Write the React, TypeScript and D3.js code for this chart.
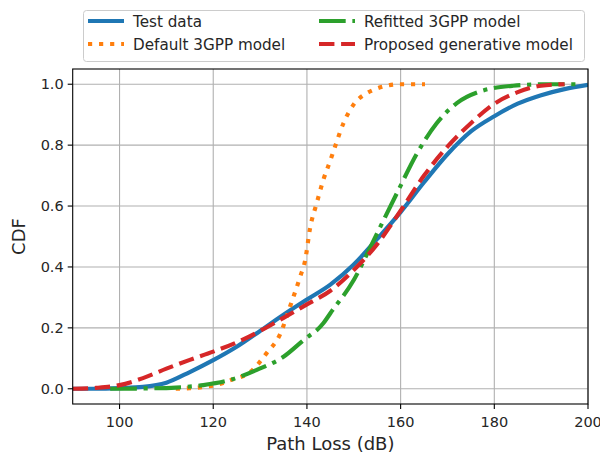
import React from "react";
import * as d3 from "d3";

const xTicks = [100, 120, 140, 160, 180, 200];
const yTicks = [0.0, 0.2, 0.4, 0.6, 0.8, 1.0];

// Test data (blue, solid)
const testX = [90, 95, 100, 105, 110, 115, 120, 125, 130, 135, 140, 145, 150, 155, 160, 165, 170, 175, 180, 185, 190, 195, 200];
const testY = [0, 0, 0.002, 0.006, 0.02, 0.055, 0.094, 0.138, 0.19, 0.243, 0.293, 0.342, 0.408, 0.492, 0.58, 0.678, 0.77, 0.845, 0.895, 0.936, 0.964, 0.984, 0.998];

// Default 3GPP model (orange, dotted)
const defX = [112, 115, 117.9, 121, 124, 127.9, 131.4, 134.3, 136.4, 138.6, 139.6, 140.7, 142.1, 143.5, 145, 146, 147.8, 150.3, 152.5, 154.6, 157, 159.9, 165.2];
const defY = [0, 0.002, 0.006, 0.014, 0.03, 0.055, 0.117, 0.18, 0.27, 0.37, 0.42, 0.53, 0.61, 0.686, 0.75, 0.795, 0.872, 0.94, 0.968, 0.984, 0.995, 1.0, 1.0];

// Refitted 3GPP model (green, dash-dot)
const refX = [98, 105, 112, 117.9, 123.6, 129.3, 135, 139.3, 143.5, 145, 150, 154.3, 159.2, 163.5, 167.7, 172, 176.9, 184, 191.2, 197.6];
const refY = [0, 0.001, 0.004, 0.012, 0.029, 0.062, 0.105, 0.16, 0.215, 0.248, 0.357, 0.489, 0.642, 0.773, 0.872, 0.938, 0.976, 0.995, 1.0, 1.0];

// Proposed generative model (red, dashed)
const proX = [90, 95, 100, 105, 110, 115, 120, 125, 130, 135, 140, 145, 150, 155, 160, 165, 170, 175, 180, 185, 190, 195];
const proY = [0, 0.003, 0.012, 0.035, 0.066, 0.095, 0.122, 0.152, 0.19, 0.233, 0.277, 0.322, 0.39, 0.475, 0.585, 0.7, 0.795, 0.872, 0.936, 0.974, 0.995, 1.0];

const seriesNames = ["Test data", "Default 3GPP model", "Refitted 3GPP model", "Proposed generative model"];

const W = 600, H = 454;
const L = 72.7, R = 588, T = 69, B = 404;
const LW = 4.17;
const FONT = "DejaVu Sans, sans-serif";

export default function App() {
  const x = d3.scaleLinear().domain([90, 200]).range([L, R]);
  const y = d3.scaleLinear().domain([-0.05, 1.05]).range([B, T]);
  const line = d3.line<[number, number]>().x(d => x(d[0])).y(d => y(d[1])).curve(d3.curveMonotoneX);
  const zip = (a: number[], b: number[]) => a.map((v, i) => [v, b[i]] as [number, number]);

  const series = [
    { name: seriesNames[0], pts: zip(testX, testY), color: "#1f77b4", dash: "none" },
    { name: seriesNames[1], pts: zip(defX, defY), color: "#ff7f0e", dash: `${1 * LW} ${1.65 * LW}` },
    { name: seriesNames[2], pts: zip(refX, refY), color: "#2ca02c", dash: `${6.4 * LW} ${1.6 * LW} ${1 * LW} ${1.6 * LW}` },
    { name: seriesNames[3], pts: zip(proX, proY), color: "#d62728", dash: `${3.7 * LW} ${1.6 * LW}` },
  ];

  const legendItems = [
    { s: series[0], hx: 88, ty: 22 },
    { s: series[1], hx: 88, ty: 45 },
    { s: series[2], hx: 319, ty: 22 },
    { s: series[3], hx: 319, ty: 45 },
  ];

  return (
    <svg width={W} height={H} style={{ display: "block", position: "absolute", left: 0, top: 0 }} fontFamily={FONT}>
      <rect x={0} y={0} width={W} height={H} fill="#fff" />
      <defs>
        <clipPath id="plotclip">
          <rect x={L} y={T} width={R - L} height={B - T} />
        </clipPath>
      </defs>
      {xTicks.map(t => (
        <line key={"gx" + t} x1={x(t)} x2={x(t)} y1={T} y2={B} stroke="#b0b0b0" strokeWidth={1.1} />
      ))}
      {yTicks.map(t => (
        <line key={"gy" + t} x1={L} x2={R} y1={y(t)} y2={y(t)} stroke="#b0b0b0" strokeWidth={1.1} />
      ))}
      <g clipPath="url(#plotclip)">
        {series.map(s => (
          <path key={s.name} d={line(s.pts) || ""} fill="none" stroke={s.color} strokeWidth={LW}
            strokeDasharray={s.dash} strokeLinecap="butt" strokeLinejoin="round" />
        ))}
      </g>
      <rect x={L} y={T} width={R - L} height={B - T} fill="none" stroke="#000" strokeWidth={1.1} />
      {xTicks.map(t => (
        <g key={"xt" + t}>
          <line x1={x(t)} x2={x(t)} y1={B} y2={B + 5} stroke="#000" strokeWidth={1.1} />
          <text x={x(t)} y={427} textAnchor="middle" fontSize={14.5} fill="#262626">{t}</text>
        </g>
      ))}
      {yTicks.map(t => (
        <g key={"yt" + t}>
          <line x1={L - 5} x2={L} y1={y(t)} y2={y(t)} stroke="#000" strokeWidth={1.1} />
          <text x={L - 9} y={y(t)} dy="0.36em" textAnchor="end" fontSize={14.5} fill="#262626">{t.toFixed(1)}</text>
        </g>
      ))}
      <text x={(L + R) / 2} y={450} textAnchor="middle" fontSize={18} fill="#262626">Path Loss (dB)</text>
      <text transform={`translate(25,${(T + B) / 2}) rotate(-90)`} textAnchor="middle" fontSize={18} fill="#262626">CDF</text>
      <rect x={83.5} y={10.5} width={501} height={51} rx={3} fill="#fff" fillOpacity={0.8} stroke="#cccccc" strokeWidth={1} />
      {legendItems.map(it => (
        <g key={"lg" + it.s.name}>
          <line x1={it.hx} x2={it.hx + 36} y1={it.ty - 1} y2={it.ty - 1} stroke={it.s.color} strokeWidth={LW}
            strokeDasharray={it.s.dash} strokeLinecap="butt" />
          <text x={it.hx + 45} y={it.ty} dy="0.36em" fontSize={15.2} fill="#262626">{it.s.name}</text>
        </g>
      ))}
    </svg>
  );
}
